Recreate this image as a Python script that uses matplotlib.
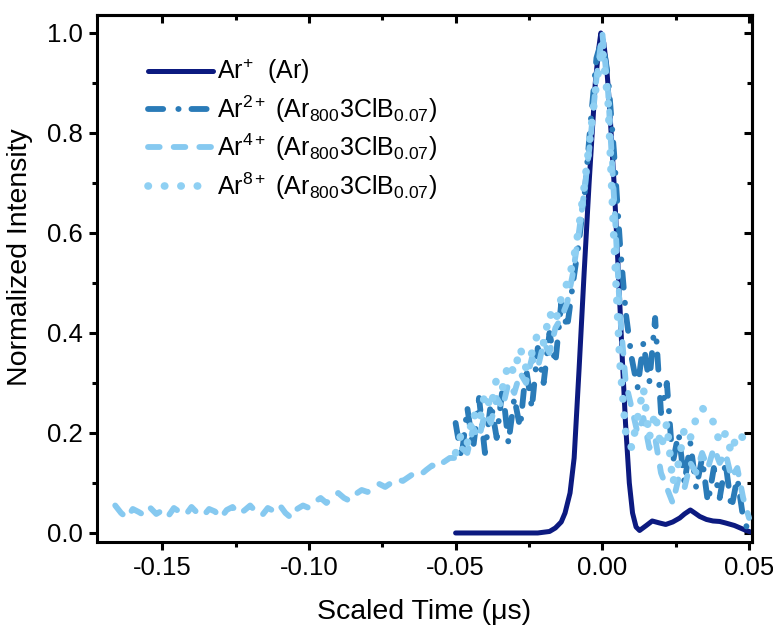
import numpy as np
import matplotlib
matplotlib.use('Agg')
import matplotlib.pyplot as plt
from matplotlib.ticker import MultipleLocator

plt.rcParams['font.family'] = ['Liberation Sans', 'DejaVu Sans']
plt.rcParams['mathtext.fontset'] = 'custom'
plt.rcParams['mathtext.rm'] = 'Liberation Sans'
plt.rcParams['mathtext.it'] = 'Liberation Sans:italic'
plt.rcParams['mathtext.bf'] = 'Liberation Sans:bold'

# Ar+ from pure Ar (smooth reference trace)
t_ar1 = [-0.050, -0.040, -0.030, -0.022, -0.018, -0.016, -0.014, -0.0127, -0.011,
         -0.0096, -0.0079, -0.0062, -0.0045, -0.0024, -0.0012, -0.0005, 0.0005,
         0.0015, 0.0024, 0.0041, 0.0058, 0.0068, 0.0079, 0.0092, 0.0103, 0.0115,
         0.0127, 0.015, 0.017, 0.0195, 0.0216, 0.024, 0.0264, 0.028, 0.030, 0.0315,
         0.0332, 0.0355, 0.0377, 0.040, 0.042, 0.045, 0.047, 0.049, 0.0505]
i_ar1 = [0.0, 0.0, 0.0, 0.0, 0.003, 0.01, 0.022, 0.04, 0.08,
         0.15, 0.33, 0.52, 0.70, 0.90, 0.97, 1.0, 0.98,
         0.93, 0.86, 0.69, 0.48, 0.35, 0.22, 0.10, 0.04, 0.012,
         0.005, 0.015, 0.024, 0.020, 0.017, 0.022, 0.030, 0.038, 0.046, 0.040,
         0.033, 0.027, 0.024, 0.023, 0.020, 0.015, 0.010, 0.005, 0.002]

# cluster traces, sampled every 2 ns from -0.05 to 0.05 us
t_clu = np.linspace(-0.05, 0.05, 51)

i_ar2 = [0.22, 0.15, 0.25, 0.17, 0.27, 0.16, 0.26, 0.19, 0.29, 0.18,
         0.27, 0.21, 0.33, 0.25, 0.37, 0.30, 0.40, 0.34, 0.46, 0.41,
         0.50, 0.58, 0.68, 0.82, 0.95, 0.99, 0.91, 0.76, 0.58, 0.44,
         0.35, 0.29, 0.38, 0.30, 0.43, 0.24, 0.30, 0.14, 0.20, 0.10,
         0.18, 0.09, 0.15, 0.06, 0.13, 0.07, 0.14, 0.05, 0.11, 0.03,
         0.0]

i_ar8 = [0.16, 0.20, 0.18, 0.24, 0.22, 0.28, 0.25, 0.31, 0.29, 0.34,
         0.32, 0.37, 0.33, 0.36, 0.40, 0.38, 0.44, 0.42, 0.47, 0.50,
         0.54, 0.61, 0.70, 0.80, 0.90, 0.97, 0.86, 0.58, 0.34, 0.20,
         0.17, 0.23, 0.29, 0.19, 0.24, 0.17, 0.22, 0.10, 0.14, 0.21,
         0.19, 0.23, 0.25, 0.24, 0.22, 0.18, 0.20, 0.16, 0.20, 0.19,
         0.19]

# Ar4+ has a longer record before -0.05 us
t_ar4_early = np.linspace(-0.166, -0.052, 58)
i_ar4_early = [0.055, 0.040, 0.030, 0.048, 0.042, 0.035, 0.050, 0.038, 0.045, 0.033,
               0.050, 0.042, 0.036, 0.052, 0.040, 0.034, 0.048, 0.043, 0.030, 0.046,
               0.052, 0.038, 0.045, 0.055, 0.042, 0.035, 0.050, 0.044, 0.056, 0.040,
               0.030, 0.048, 0.055, 0.050, 0.062, 0.070, 0.060, 0.072, 0.080, 0.070,
               0.064, 0.078, 0.086, 0.082, 0.090, 0.098, 0.092, 0.100, 0.108, 0.104,
               0.112, 0.120, 0.116, 0.126, 0.135, 0.130, 0.142, 0.150]
i_ar4_late = [0.15, 0.17, 0.16, 0.21, 0.19, 0.24, 0.22, 0.27, 0.25, 0.30,
              0.28, 0.32, 0.30, 0.35, 0.33, 0.38, 0.36, 0.41, 0.43, 0.46,
              0.52, 0.60, 0.69, 0.79, 0.91, 1.00, 0.88, 0.67, 0.44, 0.30,
              0.25, 0.20, 0.23, 0.17, 0.19, 0.12, 0.09, 0.06, 0.11, 0.09,
              0.14, 0.12, 0.16, 0.13, 0.17, 0.14, 0.16, 0.11, 0.13, 0.07,
              0.03]
t_ar4 = np.concatenate([t_ar4_early, t_clu])
i_ar4 = np.concatenate([i_ar4_early, i_ar4_late])

labels = [r'Ar$^{\mathregular{+}}$  (Ar)',
          r'Ar$^{\mathregular{2+}}$ (Ar$_{\mathregular{800}}$3ClB$_{\mathregular{0.07}}$)',
          r'Ar$^{\mathregular{4+}}$ (Ar$_{\mathregular{800}}$3ClB$_{\mathregular{0.07}}$)',
          r'Ar$^{\mathregular{8+}}$ (Ar$_{\mathregular{800}}$3ClB$_{\mathregular{0.07}}$)']

fig = plt.figure(figsize=(7.73, 6.35), dpi=100)
ax = fig.add_axes([0.1255, 0.1465, 0.8473, 0.8299])

ax.plot(t_ar1, i_ar1, color='#0c1a80', lw=3.6, solid_capstyle='round',
        label=labels[0], zorder=2)
ax.plot(t_clu, i_ar2, color='#2a7bb8', lw=4.2, dashes=(2.6, 2.6, 0.05, 2.2),
        dash_capstyle='round', label=labels[1], zorder=3)
ax.plot(t_ar4, i_ar4, color='#86c9f0', lw=4.2, dashes=(2.0, 2.4),
        dash_capstyle='round', label=labels[2], zorder=3)
ax.plot(t_clu, i_ar8, color='#8fd0f3', lw=5.5, dashes=(0.05, 2.1),
        dash_capstyle='round', label=labels[3], zorder=3)

ax.set_xlim(-0.1722, 0.051)
ax.set_ylim(-0.018, 1.036)
ax.xaxis.set_major_locator(MultipleLocator(0.05))
ax.xaxis.set_minor_locator(MultipleLocator(0.025))
ax.yaxis.set_major_locator(MultipleLocator(0.2))
ax.yaxis.set_minor_locator(MultipleLocator(0.1))
ax.xaxis.set_major_formatter(plt.FuncFormatter(lambda v, p: f'{v:.2f}'))
ax.yaxis.set_major_formatter(plt.FuncFormatter(lambda v, p: f'{v:.1f}'))

for s in ax.spines.values():
    s.set_linewidth(2.2)
ax.tick_params(which='both', width=2.2, labelsize=18.5, direction='out', pad=4,
               top=False, right=False)
ax.tick_params(which='major', length=6)
ax.tick_params(which='minor', length=3.5)

# inward ticks on the top and right edges
sec_x = ax.secondary_xaxis('top')
sec_x.xaxis.set_major_locator(MultipleLocator(0.05))
sec_x.xaxis.set_minor_locator(MultipleLocator(0.025))
sec_x.tick_params(which='both', direction='in', width=2.2, labeltop=False)
sec_x.tick_params(which='major', length=6)
sec_x.tick_params(which='minor', length=3.5)
sec_x.spines['top'].set_linewidth(2.2)
sec_y = ax.secondary_yaxis('right')
sec_y.yaxis.set_major_locator(MultipleLocator(0.2))
sec_y.yaxis.set_minor_locator(MultipleLocator(0.1))
sec_y.tick_params(which='both', direction='in', width=2.2, labelright=False)
sec_y.tick_params(which='major', length=6)
sec_y.tick_params(which='minor', length=3.5)
sec_y.spines['right'].set_linewidth(2.2)

ax.set_xlabel('Scaled Time (μs)', fontsize=20.5, labelpad=14)
ax.set_ylabel('Normalized Intensity', fontsize=20.5)
ax.yaxis.set_label_coords(-0.098, 0.54)

ax.legend(loc='upper left', bbox_to_anchor=(0.078, 0.92), frameon=False,
          fontsize=18, handlelength=2.6, handletextpad=0.15, labelspacing=0.28,
          borderpad=0, borderaxespad=0)

fig.savefig('out.png', dpi=100)
